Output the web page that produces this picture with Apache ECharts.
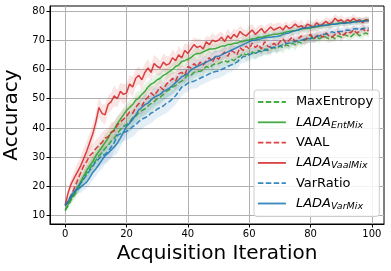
<!DOCTYPE html>
<html>
<head>
<meta charset="utf-8">
<script src="https://cdn.jsdelivr.net/npm/echarts@6/dist/echarts.min.js"></script>
<style>html,body{margin:0;padding:0;background:#fff}#c{width:391px;height:271px}</style>
</head>
<body>
<div id="c"></div>
<script>
// ---- data ----
const xTicks = [0, 20, 40, 60, 80, 100];
const yTicks = [10, 20, 30, 40, 50, 60, 70, 80];
const maxEntropy = [
 11.8,13.5,15.5,17,19,21,23,24.5,26,27.5,
 29,30.5,31.5,33,34,35.5,36.5,38,39.5,40.5,
 41.1,42,43.5,44,45.1,46,46.5,47.5,48.4,49,
 50,50.5,51.5,52.5,53,54,54.5,55.5,56,57,
 58.1,58,59,59.5,59.3,60,61,60.5,61.5,62,
 62,62.5,63,62.5,63.5,63,64,64.5,65.5,65,
 65.5,66,65.5,66.5,66,67,66.5,67,67.5,67.2,
 68,67.5,68.5,68,69,68.5,69.5,69,70,70.5,
 71,70.5,71,70.5,71.5,71,70.5,71.2,70.5,71.5,
 71,72,71.5,71,72,72.5,71.5,72,72.5,72];
const ladaEntMix = [
 11.8,14,16,17.5,19.5,21.5,23.5,25.5,27,28.5,
 30.5,32,33.5,35,36.5,38.5,39.5,41.5,43,44.5,
 46,47,48,49.5,50.2,51.5,52.5,54,55,55.5,
 56.5,57,58,58.5,59.3,60,61,61.5,62.7,63,
 63.5,64,65,65.5,65.5,66,66.5,67,67,67.2,
 67.5,68,68,68.5,68.5,69,69,69.5,69.5,70,
 70,70.5,70.5,71,71,71.3,71.5,71.8,72,72,
 72.3,72.5,72.8,73,73.2,73.3,73.5,73.8,74,74,
 74.2,74.5,74.5,74.8,75,75,75.3,75.5,75.5,75.8,
 76,75.8,76,76.2,76.3,76.5,76.3,76.6,76.8,77];
const vaal = [
 13.5,15,17.2,19.5,22,24.5,27,28.5,30.5,31.5,
 33,34,35,36.5,37,38.5,39,41,42,43,
 44,45.5,45,47,48.4,47.5,49.5,50.5,52,51,
 52.5,54,53,55,55.8,57,56,58.5,59,58,
 61,60.5,62,61,62.5,61.5,63,64,62.5,64.5,
 63.5,65,66,64.5,66.5,66,65,67.5,66.5,68,
 67,69,67.5,68.5,67,69.5,68,67.5,69,68,
 69.5,70.5,69,70,71,69.5,70.5,71.5,70,71,
 72,70.5,71.5,72,71,72.5,71.5,71,72,73,
 71.5,72,73,72.5,73.5,72.5,73,74,73,73.5];
const ladaVaalMix = [
 13.8,18,21,23,25,27,29.5,32,35,38,
 42,47,45,44.5,48,49,51,50,52.5,51.5,
 52,55,54,57,58,56.5,59,60.5,59,62,
 61,60.5,62.5,61.5,62,64,63,65,64,66.5,
 65.5,67,68.5,67.5,68,67,69.5,68.5,70,69.5,
 70,71,69.5,71.5,70.5,72,71,73,72,71.5,
 72.5,73.5,72,73,74,72.5,73.5,74.5,73.5,74,
 74.5,73.5,75,74,74.5,75.5,74.5,75,74,75.5,
 75,74.5,76,75,75.5,76.5,75.5,76,77.5,76.5,
 77,76,77,76.5,77.5,76.5,77,76,77,76.5];
const varRatio = [
 13.5,15,16.5,18,19.5,21,22.5,24,25.5,27,
 28.5,29.5,30.5,31,32,33.5,35,37.5,38,38.5,
 38.8,39.5,40.5,41,42.2,43,43.5,44,45.1,45.5,
 46.5,47,47.5,48.5,49,50,51,52.5,54,54.5,
 55.3,55.8,56,56.5,57,57.5,58,58.5,59,59.3,
 59.5,60,60.5,61,61.5,62,62.5,63.5,64.4,64.5,
 65,65.5,65.5,66,66.5,66.5,67,67.5,67.5,67.8,
 68,68.5,69,69,69.5,69.5,70,70,70.3,70.5,
 70.5,71,71.2,71.5,72,72,72.5,72.9,72.5,73,
 73,73.2,73.5,73.3,73.8,74,73.5,74,74.2,74];
const ladaVarMix = [
 13.5,15,17,18.3,19,19.8,20.6,21.5,23,24.8,
 26,27.5,29,30.5,31.4,32.5,33.5,34.8,36.5,38.5,
 40.5,41.6,43,44.5,46.2,47,48,48.5,49.6,50.5,
 51,51.5,52.5,53,53.6,54.5,55.5,56.5,57.5,58,
 58.7,59.8,60.5,61,61.5,62,62.5,63,63.5,64.4,
 64.5,65,65.5,66,66.5,67,67.5,68,68.5,69,
 69.5,70,70,70.3,70.5,70.8,71,71,71.2,71.3,
 71.5,72,72.3,72.5,73,73.2,73.5,74,74.2,74.3,
 74.5,74.6,74.8,75,75,75.2,75.3,75.5,75.5,75.6,
 75.8,75.8,76,76,76.2,76.3,76.5,76.5,76.6,76.7];

// spread (half width of shaded band)
const sdMaxEntropy = [
 0.5,1,1.5,1.5,2,2,2.5,2.5,2.5,3, 3,3,2.5,3,3,2.5,3,3,2.5,3,
 2.5,3,2.5,2.5,3,2.5,2.5,2.5,3,2.5, 2.5,2.5,2.5,2.5,2,2.5,2.5,2,2.5,2.5,
 2,2.5,2,2,2.5,2,2,2,2.5,2, 2,2,2,1.5,2,2,2,2,1.5,2,
 2,1.5,2,2,1.5,2,1.5,2,1.5,2, 1.5,2,1.5,1.5,1.5,2,1.5,1.5,1.5,1.5,
 1.5,1.5,1.5,1.5,1,1.5,1.5,1.5,1,1.5, 1.5,1,1.5,1,1.5,1,1,1.5,1,1];
const sdEntMix = [
 0.5,1,1.5,1.5,2,2,2,2.5,2.5,2.5, 2.5,3,2.5,3,2.5,2.5,3,2.5,2.5,2.5,
 2.5,2.5,2,2.5,2.5,2,2.5,2,2,2.5, 2,2,2.5,2,2,2,2.5,2,2,2,
 2,1.5,2,2,1.5,2,2,1.5,2,1.5, 1.5,2,1.5,1.5,2,1.5,1.5,1.5,2,1.5,
 1.5,1.5,1.5,2,1.5,1.5,1.5,1.5,1.5,2, 1.5,1.5,1.5,1,1.5,1.5,1.5,1,1.5,1.5,
 1,1.5,1.5,1,1.5,1,1.5,1,1,1.5, 1,1,1.5,1,1,1,1.5,1,1,1];
const sdVaal = [
 1,1.5,1.5,2,2,2.5,2.5,2.5,3,3, 3,3,3.5,3,3,3.5,3,3,3,3.5,
 3,3,3,3.5,3,3,3,3,2.5,3, 3,3,2.5,3,3,2.5,3,3,2.5,3,
 2.5,3,2.5,2.5,3,2.5,2.5,2.5,3,2.5, 2.5,2.5,2,2.5,2.5,2.5,2,2.5,2.5,2,
 2.5,2,2,2.5,2,2,2.5,2,2,2, 2,2,2,1.5,2,2,2,1.5,2,2,
 2,1.5,2,1.5,1.5,2,1.5,1.5,2,1.5, 1.5,1.5,1.5,1.5,1.5,1.5,1.5,1.5,1.5,1.5];
const sdVaalMix = [
 1,1.5,2,2.5,3,3,3.5,3.5,3,3.5, 3,3.5,3,3.5,3,3,3.5,3,3,3.5,
 3,3,3.5,3,3,3.5,3,3,2.5,3, 3,2.5,3,3,2.5,3,2.5,3,2.5,2.5,
 3,2.5,2.5,3,2.5,2.5,2,2.5,2.5,2, 2.5,2,2,2.5,2,2,2.5,2,2,2,
 2.5,2,2,2,1.5,2,2,1.5,2,2, 1.5,2,1.5,1.5,2,1.5,1.5,2,1.5,1.5,
 1.5,2,1.5,1.5,1.5,1.5,2,1.5,1.5,1.5, 1.5,1.5,1,1.5,1.5,1.5,1,1.5,1.5,1];
const sdVarRatio = [
 0.5,1,1,1.5,1.5,2,2,2.5,2.5,2.5, 2.5,3,3,3,3,3.5,3,3,3.5,3,
 3,3,3.5,3,3,3.5,3,3,3.5,3, 3,3,3,3.5,3,3,3,3,3,2.5,
 3,2.5,2.5,3,2.5,2.5,2.5,2.5,2.5,2.5, 2.5,2.5,2.5,2,2.5,2,2.5,2,2,2,
 2,2,2,2,2,1.5,2,2,1.5,2, 2,1.5,1.5,2,1.5,1.5,1.5,1.5,1.5,1.5,
 1.5,1.5,1.5,1.5,1.5,1,1.5,1.5,1,1.5, 1,1.5,1,1,1.5,1,1,1,1,1];
const sdVarMix = [
 0.5,1,1,1.5,1.5,2,2,2,2.5,2.5, 2.5,2.5,3,3,3,3,3,3.5,3,3,
 3,3,3.5,3,3,3,3.5,3,3,3, 3,3,3,2.5,3,3,2.5,3,2.5,2.5,
 2.5,2.5,2.5,2.5,2,2.5,2,2,2.5,2, 2,2,2,2,1.5,2,2,1.5,2,1.5,
 1.5,1.5,2,1.5,1.5,1.5,1.5,1.5,1.5,1.5, 1.5,1.5,1,1.5,1.5,1,1.5,1,1,1.5,
 1,1,1.5,1,1,1,1,1.5,1,1, 1,1,1,1,1,1,1,1,1,1];

const seriesNames = ['MaxEntropy','LADA_EntMix','VAAL','LADA_VaalMix','VarRatio','LADA_VarMix'];
const seriesValues = [maxEntropy, ladaEntMix, vaal, ladaVaalMix, varRatio, ladaVarMix];
const seriesSpread = [sdMaxEntropy, sdEntMix, sdVaal, sdVaalMix, sdVarRatio, sdVarMix];
const seriesDashed = [true, false, true, false, true, false];
const seriesRGB = ['44,160,44','44,160,44','214,39,40','214,39,40','31,119,180','31,119,180'];

// ---- build ----
const FONT = 'DejaVu Sans';
const series = [];
seriesNames.forEach((name, k) => {
  const vals = seriesValues[k], sd = seriesSpread[k];
  const bandData = vals.map((v, i) => [i, v - sd[i], v + sd[i]]);
  series.push({
    type: 'custom', silent: true, z: 1,
    data: bandData,
    encode: { x: 0, y: [1, 2] },
    clip: true,
    renderItem: (params, api) => {
      if (params.dataIndex !== 0) return null;
      const pts = [];
      for (let i = 0; i < bandData.length; i++) pts.push(api.coord([bandData[i][0], bandData[i][1]]));
      for (let i = bandData.length - 1; i >= 0; i--) pts.push(api.coord([bandData[i][0], bandData[i][2]]));
      return { type: 'polygon', shape: { points: pts }, style: { fill: 'rgba(' + seriesRGB[k] + ',0.12)' } };
    }
  });
});
seriesNames.forEach((name, k) => {
  series.push({
    name: name, type: 'line', symbol: 'none', z: 3,
    data: seriesValues[k].map((v, i) => [i, v]),
    itemStyle: { color: 'rgba(' + seriesRGB[k] + ',0.88)' },
    lineStyle: {
      color: 'rgba(' + seriesRGB[k] + ',0.88)', width: 1.5,
      type: seriesDashed[k] ? [5.5, 2.4] : 'solid'
    }
  });
});

const chart = echarts.init(document.getElementById('c'), null, { renderer: 'canvas' });
chart.setOption({
  animation: false,
  backgroundColor: '#fff',
  grid: { left: 50, right: 7, top: 6, bottom: 47, show: true, borderColor: '#000', borderWidth: 1,
    backgroundColor: 'transparent', containLabel: false, outerBoundsMode: 'none' },
  xAxis: {
    type: 'value', min: -4.95, max: 103.95, splitNumber: 5,
    name: 'Acquisition Iteration', nameLocation: 'middle', nameGap: 19,
    nameTextStyle: { fontFamily: FONT, fontSize: 20, color: '#000', verticalAlign: 'top' },
    axisLine: { onZero: false, lineStyle: { color: '#000', width: 1 } },
    axisTick: { show: true, length: 3.5, customValues: xTicks, lineStyle: { color: '#000' } },
    axisLabel: { fontFamily: FONT, fontSize: 10, color: '#000', margin: 5, customValues: xTicks,
      formatter: v => (Math.abs(v % 20) < 1e-6 ? String(v) : '') },
    splitLine: { show: true, lineStyle: { color: '#b0b0b0', width: 1 } }
  },
  yAxis: {
    type: 'value', min: 7.17, max: 81.7, splitNumber: 7,
    name: 'Accuracy', nameLocation: 'middle', nameGap: 24,
    nameTextStyle: { fontFamily: FONT, fontSize: 20, color: '#000' },
    axisLine: { show: true, onZero: false, lineStyle: { color: '#000', width: 1 } },
    axisTick: { show: true, length: 3.5, customValues: yTicks, lineStyle: { color: '#000' } },
    axisLabel: { fontFamily: FONT, fontSize: 10, color: '#000', margin: 5, customValues: yTicks,
      formatter: v => (Math.abs(v % 10) < 1e-6 ? String(v) : '') },
    splitLine: { show: true, lineStyle: { color: '#b0b0b0', width: 1 } }
  },
  legend: {
    data: seriesNames, orient: 'vertical', left: 254, top: 90,
    padding: [4, 6, 5, 3], itemGap: 4.3, itemWidth: 28, itemHeight: 16,
    backgroundColor: 'rgba(255,255,255,0.85)', borderColor: '#cccccc', borderWidth: 1, borderRadius: 3,
    itemStyle: { opacity: 0, borderWidth: 0 },
    lineStyle: { width: 1.8 },
    textStyle: {
      fontFamily: FONT, fontSize: 13, color: '#000', lineHeight: 16, padding: [0, 0, 0, 5],
      rich: {
        n: { fontFamily: FONT, fontSize: 13, color: '#000', lineHeight: 16 },
        i: { fontFamily: FONT, fontSize: 13, fontStyle: 'italic', color: '#000', lineHeight: 16 },
        s: { fontFamily: FONT, fontSize: 9.5, fontStyle: 'italic', color: '#000', lineHeight: 8, verticalAlign: 'bottom' }
      }
    },
    formatter: name => {
      if (name.indexOf('LADA_') === 0) return '{i|LADA}{s|' + name.slice(5) + '}';
      return '{n|' + name + '}';
    }
  },
  series: series
});
</script>
</body>
</html>
